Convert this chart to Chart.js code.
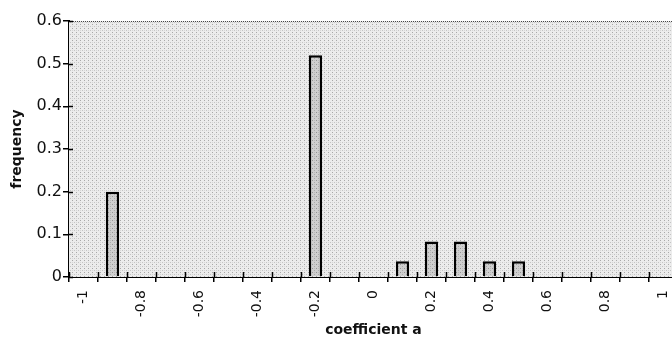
<!DOCTYPE html>
<html>
<head>
<meta charset="utf-8">
<script src="https://cdn.jsdelivr.net/npm/chart.js@4"></script>
<style>
html,body{margin:0;padding:0;background:#fff;overflow:hidden;}
#wrap{width:672px;height:339px;overflow:hidden;}
</style>
</head>
<body>
<div id="wrap"><canvas id="c" width="678" height="339"></canvas></div>
<script>
const categories = ['-1','-0.9','-0.8','-0.7','-0.6','-0.5','-0.4','-0.3','-0.2','-0.1','0','0.1','0.2','0.3','0.4','0.5','0.6','0.7','0.8','0.9','1'];
const frequency = [0,0.2,0,0,0,0,0,0,0.52,0,0,0.037,0.083,0.083,0.037,0.037,0,0,0,0,0];
const xTickLabels = ['-1','','-0.8','','-0.6','','-0.4','','-0.2','','0','','0.2','','0.4','','0.6','','0.8','','1'];
const yTickLabels = ['0','0.1','0.2','0.3','0.4','0.5','0.6'];

function makePattern(base, dots){
  const t = document.createElement('canvas');
  t.width = 4; t.height = 4;
  const g = t.getContext('2d');
  g.fillStyle = base; g.fillRect(0,0,4,4);
  dots.forEach(d => { g.fillStyle = d[2]; g.fillRect(d[0], d[1], 1, 1); });
  return document.getElementById('c').getContext('2d').createPattern(t, 'repeat');
}
const bgPattern = makePattern('#ececec', [[0,0,'#a8a8a8'],[2,2,'#c4c4c4'],[0,2,'#d6d6d6']]);
const barPattern = makePattern('#cfcfcf', [[0,0,'#959595'],[2,2,'#aaaaaa'],[2,0,'#bcbcbc']]);

const plotDeco = {
  id: 'plotDeco',
  beforeDatasetsDraw(chart){
    const {ctx, chartArea:a} = chart;
    ctx.save();
    ctx.fillStyle = bgPattern;
    ctx.fillRect(a.left, a.top, a.right - a.left, a.bottom - a.top);
    ctx.strokeStyle = '#444';
    ctx.lineWidth = 1;
    ctx.setLineDash([1,1]);
    ctx.beginPath();
    ctx.moveTo(a.left, a.top + 0.5);
    ctx.lineTo(a.right, a.top + 0.5);
    ctx.stroke();
    ctx.restore();
  },
  afterDraw(chart){
    const {ctx, chartArea:a, scales} = chart;
    ctx.save();
    ctx.strokeStyle = '#000';
    ctx.lineWidth = 1.5;
    ctx.beginPath();
    scales.y.ticks.forEach((t,i) => {
      const p = Math.round(scales.y.getPixelForTick(i)) + 0.5;
      ctx.moveTo(a.left, p); ctx.lineTo(a.left + 4, p);
    });
    const xs = scales.x;
    const half = (xs.getPixelForValue(1) - xs.getPixelForValue(0)) / 2;
    for (let i = 0; i <= categories.length; i++) {
      const p = Math.round(xs.getPixelForValue(i) - half) + 0.5;
      ctx.moveTo(p, a.bottom); ctx.lineTo(p, a.bottom - 5);
    }
    ctx.stroke();
    ctx.restore();
  }
};

new Chart(document.getElementById('c'), {
  type: 'bar',
  data: {
    labels: categories,
    datasets: [{
      data: frequency,
      backgroundColor: barPattern,
      borderColor: '#000',
      borderWidth: 2.5,
      borderSkipped: 'start',
      barPercentage: 0.46,
      categoryPercentage: 1
    }]
  },
  options: {
    responsive: false,
    animation: false,
    layout: { padding: { top: 21, right: 0, left: 0, bottom: 0 } },
    plugins: { legend: { display: false }, tooltip: { enabled: false } },
    scales: {
      x: {
        offset: true,
        grid: { offset: true, drawOnChartArea: false, color: '#000', tickLength: 5, lineWidth: 1.5 },
        border: { display: true, color: '#000', width: 2 },
        ticks: {
          autoSkip: false, maxRotation: 90, minRotation: 90, padding: 8,
          color: '#111', font: { family: 'DejaVu Sans', size: 14 },
          callback: (v, i) => xTickLabels[i]
        },
        title: { display: true, text: 'coefficient a', color: '#111',
          font: { family: 'DejaVu Sans', size: 14, weight: 'bold' }, padding: { top: 0, bottom: 0 } },
        afterFit(s){ s.height = 62; s.paddingLeft = 0; s.paddingRight = 0; }
      },
      y: {
        min: 0, max: 0.6,
        ticks: { stepSize: 0.1, padding: 1, color: '#111', font: { family: 'DejaVu Sans', size: 16 },
          callback: (v, i) => yTickLabels[i] },
        grid: { drawOnChartArea: false, color: '#000', tickLength: 6, lineWidth: 1.5 },
        border: { display: true, color: '#000', width: 2 },
        title: { display: true, text: 'frequency', color: '#111',
          font: { family: 'DejaVu Sans', size: 14, weight: 'bold' }, padding: { top: 9, bottom: 9 } },
        afterFit(s){ s.width = 69; s.paddingTop = 0; s.paddingBottom = 0; }
      }
    }
  },
  plugins: [plotDeco]
});
</script>
</body>
</html>
